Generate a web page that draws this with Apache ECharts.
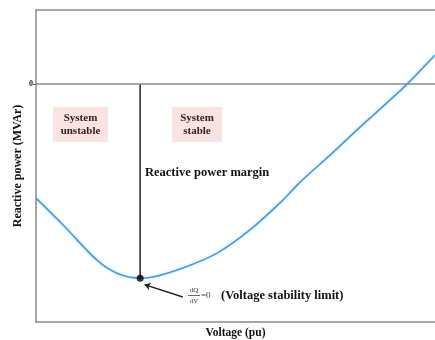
<!DOCTYPE html>
<html><head><meta charset="utf-8">
<script src="https://cdn.jsdelivr.net/npm/echarts@6/dist/echarts.min.js"></script>
<style>html,body{margin:0;padding:0;background:#fff}#c{width:435px;height:340px}</style>
</head><body><div id="c"></div>
<script>
// Voltage (arbitrary 0-100 scale) and reactive power (MVAr, arbitrary units)
const voltage = [0, 6.8, 15.3, 20.3, 26.1, 28.6, 36.8, 45.4, 53.6, 61.9, 66.2, 73.7, 81.2, 88.7, 93.0, 100];
const reactivePower = [-36.9, -45.6, -57.0, -61.2, -62.8, -62.6, -59.5, -54.7, -47.2, -37.5, -31.7, -23.0, -13.9, -5.2, 0, 9.4];
const limitPoint = [26.1, -62.8];
const yTickLabels = [0];
const xRange = [0, 100];
const yRange = [-77, 24];

const serif = '"Liberation Serif", "DejaVu Serif", serif';
const chart = echarts.init(document.getElementById('c'));
const curve = voltage.map((v, i) => [v, reactivePower[i]]);

chart.setOption({
  animation: false,
  grid: { left: 36, right: 0, top: 10, bottom: 18, containLabel: false, outerBoundsMode: 'none' },
  xAxis: [
    { type: 'value', min: xRange[0], max: xRange[1], position: 'bottom',
      name: 'Voltage (pu)', nameLocation: 'middle', nameGap: 5,
      nameTextStyle: { fontFamily: serif, fontWeight: 'bold', fontSize: 11.5, color: '#111' },
      axisLine: { show: true, onZero: false, lineStyle: { color: '#8a8a8a', width: 1.5 } },
      axisTick: { show: false }, axisLabel: { show: false }, splitLine: { show: false } },
    { type: 'value', min: xRange[0], max: xRange[1], position: 'top',
      axisLine: { show: true, onZero: false, lineStyle: { color: '#8a8a8a', width: 1.5 } },
      axisTick: { show: false }, axisLabel: { show: false }, splitLine: { show: false } }
  ],
  yAxis: {
    type: 'value', min: yRange[0], max: yRange[1],
    name: 'Reactive power (MVAr)', nameLocation: 'middle', nameGap: 12, nameMoveOverlap: false,
    nameTextStyle: { fontFamily: serif, fontWeight: 'bold', fontSize: 12, color: '#111' },
    axisLine: { show: true, onZero: false, lineStyle: { color: '#8a8a8a', width: 1.5 } },
    axisTick: { show: true, customValues: yTickLabels, length: 3, lineStyle: { color: '#555' } },
    axisLabel: { show: true, customValues: yTickLabels, margin: 3,
      fontFamily: serif, fontWeight: 'bold', fontSize: 8, color: '#222' },
    splitLine: { show: false }
  },
  series: [
    { type: 'line', data: curve, smooth: 0.35, showSymbol: false,
      lineStyle: { color: '#4a9bd6', width: 1.6, shadowColor: 'rgba(120,190,240,0.6)', shadowBlur: 3 },
      markLine: { silent: true, symbol: 'none', label: { show: false },
        lineStyle: { color: '#8a8a8a', width: 1.5, type: 'solid' },
        data: [{ yAxis: 0 }] },
      z: 3 },
    { type: 'line', data: [[limitPoint[0], 0], limitPoint], showSymbol: false,
      lineStyle: { color: '#222', width: 1.5 }, z: 2 },
    { type: 'scatter', data: [limitPoint], symbolSize: 7, itemStyle: { color: '#000' }, z: 5,
      markLine: { silent: true, symbol: ['none', 'arrow'], symbolSize: 6,
        label: { show: false }, lineStyle: { color: '#222', width: 1.5, type: 'solid' },
        data: [[{ coord: [36.8, -68.9] }, { coord: [27.2, -64.9] }]] } }
  ],
  graphic: [
    { type: 'rect', shape: { x: 53, y: 107, width: 55, height: 35 }, style: { fill: '#f9e3e3' } },
    { type: 'text', x: 80.5, y: 124.5, style: { text: 'System\nunstable', align: 'center', verticalAlign: 'middle',
      font: 'bold 11px ' + serif, fill: '#3b1a1a', lineHeight: 13 } },
    { type: 'rect', shape: { x: 172, y: 107, width: 50, height: 35 }, style: { fill: '#f9e3e3' } },
    { type: 'text', x: 197, y: 124.5, style: { text: 'System\nstable', align: 'center', verticalAlign: 'middle',
      font: 'bold 11px ' + serif, fill: '#3b1a1a', lineHeight: 13 } },
    { type: 'text', x: 145, y: 173, style: { text: 'Reactive power margin', verticalAlign: 'middle',
      font: 'bold 12.5px ' + serif, fill: '#111' } },
    { type: 'text', x: 194, y: 290, style: { text: 'dQ', align: 'center', verticalAlign: 'middle',
      font: '7px ' + serif, fill: '#333' } },
    { type: 'line', shape: { x1: 188, y1: 295.5, x2: 200, y2: 295.5 }, style: { stroke: '#444', lineWidth: 0.8 } },
    { type: 'text', x: 194, y: 301, style: { text: 'dV', align: 'center', verticalAlign: 'middle',
      font: '7px ' + serif, fill: '#333' } },
    { type: 'text', x: 201, y: 296, style: { text: '=0', verticalAlign: 'middle',
      font: '9px ' + serif, fill: '#444' } },
    { type: 'text', x: 221, y: 296, style: { text: '(Voltage stability limit)', verticalAlign: 'middle',
      font: 'bold 12.5px ' + serif, fill: '#111' } }
  ]
});
</script></body></html>
